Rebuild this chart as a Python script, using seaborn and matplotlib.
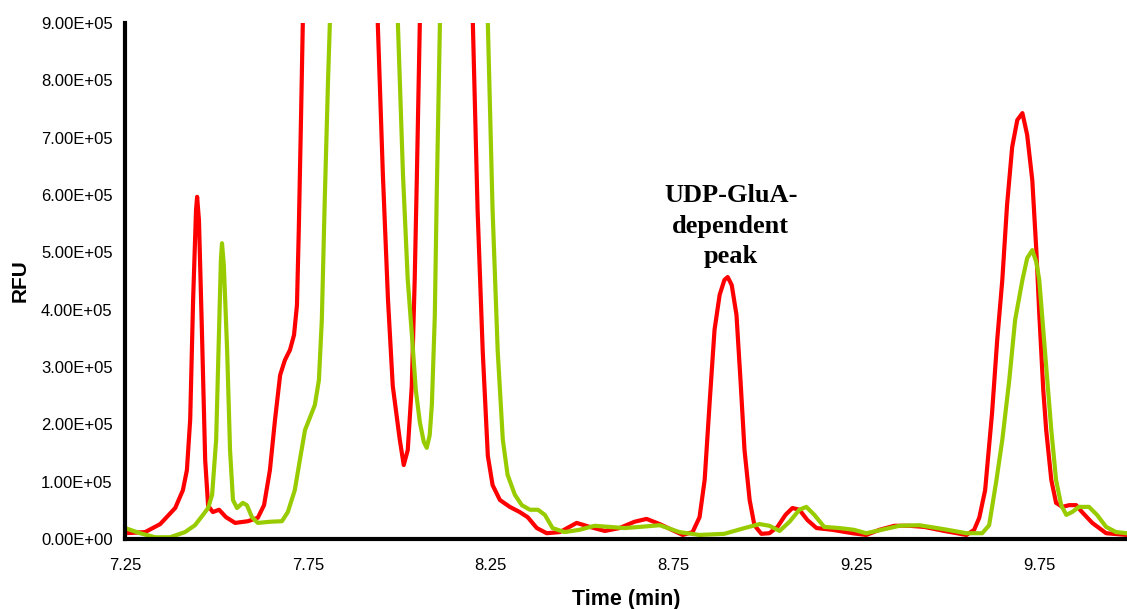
import matplotlib

matplotlib.use("Agg")

import matplotlib.pyplot as plt  # noqa: E402
import seaborn as sns  # noqa: E402
from matplotlib.ticker import FormatStrFormatter  # noqa: E402

# Red trace (with UDP-GluA). Points above 9e5 are
# rough guesses for the off-scale peaks; they get clipped by the axes anyway.
red_time = [
    7.250, 7.305, 7.346, 7.387, 7.408, 7.419, 7.428, 7.436, 7.444, 7.447,
    7.452, 7.460, 7.469, 7.477, 7.490, 7.507, 7.526, 7.551, 7.586, 7.613,
    7.630, 7.646, 7.660, 7.674, 7.687, 7.701, 7.712, 7.720, 7.725, 7.731,
    7.736, 7.755, 7.837, 7.925, 7.941, 7.955, 7.969, 7.982, 8.001, 8.012,
    8.023, 8.034, 8.042, 8.048, 8.056, 8.070, 8.127, 8.187, 8.201, 8.214,
    8.228, 8.242, 8.255, 8.275, 8.302, 8.329, 8.351, 8.376, 8.403, 8.439,
    8.485, 8.521, 8.562, 8.602, 8.643, 8.676, 8.712, 8.745, 8.775, 8.802,
    8.821, 8.835, 8.849, 8.862, 8.876, 8.889, 8.898, 8.909, 8.922, 8.933,
    8.944, 8.958, 8.971, 8.990, 9.012, 9.034, 9.056, 9.075, 9.094, 9.116,
    9.141, 9.184, 9.239, 9.277, 9.313, 9.354, 9.395, 9.436, 9.490, 9.551,
    9.572, 9.586, 9.602, 9.621, 9.635, 9.649, 9.662, 9.676, 9.690, 9.704,
    9.717, 9.731, 9.742, 9.750, 9.761, 9.769, 9.783, 9.796, 9.813, 9.832,
    9.851, 9.867, 9.895, 9.933, 9.990,
]
red_rfu = [
    0.10e5, 0.12e5, 0.26e5, 0.54e5, 0.85e5, 1.20e5, 2.08e5, 4.17e5, 5.74e5, 5.97e5,
    5.56e5, 3.65e5, 1.38e5, 0.58e5, 0.47e5, 0.51e5, 0.38e5, 0.28e5, 0.31e5, 0.37e5,
    0.59e5, 1.20e5, 2.08e5, 2.86e5, 3.12e5, 3.30e5, 3.56e5, 4.08e5, 5.39e5, 7.31e5,
    9.00e5, 15.0e5, 30.0e5, 15.0e5, 9.00e5, 6.35e5, 4.17e5, 2.67e5, 1.74e5, 1.29e5,
    1.55e5, 2.67e5, 4.52e5, 6.35e5, 9.00e5, 15.0e5, 30.0e5, 15.0e5, 9.00e5, 5.74e5,
    3.28e5, 1.45e5, 0.94e5, 0.68e5, 0.56e5, 0.47e5, 0.38e5, 0.19e5, 0.10e5, 0.12e5,
    0.28e5, 0.21e5, 0.14e5, 0.19e5, 0.30e5, 0.35e5, 0.26e5, 0.16e5, 0.07e5, 0.12e5,
    0.38e5, 1.03e5, 2.42e5, 3.65e5, 4.26e5, 4.52e5, 4.57e5, 4.43e5, 3.91e5, 2.77e5,
    1.55e5, 0.68e5, 0.24e5, 0.09e5, 0.10e5, 0.21e5, 0.42e5, 0.54e5, 0.51e5, 0.33e5,
    0.19e5, 0.16e5, 0.10e5, 0.07e5, 0.16e5, 0.23e5, 0.23e5, 0.21e5, 0.14e5, 0.07e5,
    0.16e5, 0.37e5, 0.85e5, 2.20e5, 3.47e5, 4.52e5, 5.83e5, 6.84e5, 7.31e5, 7.43e5,
    7.05e5, 6.26e5, 5.04e5, 3.94e5, 2.60e5, 1.90e5, 1.03e5, 0.63e5, 0.56e5, 0.59e5,
    0.59e5, 0.47e5, 0.28e5, 0.10e5, 0.07e5,
]

# Green trace (control).
green_time = [
    7.250, 7.291, 7.332, 7.373, 7.414, 7.441, 7.463, 7.477, 7.488, 7.499,
    7.507, 7.512, 7.515, 7.520, 7.529, 7.537, 7.545, 7.556, 7.572, 7.583,
    7.597, 7.613, 7.646, 7.679, 7.695, 7.714, 7.728, 7.742, 7.755, 7.769,
    7.780, 7.788, 7.796, 7.805, 7.810, 7.824, 7.906, 7.982, 7.996, 8.010,
    8.023, 8.034, 8.045, 8.056, 8.067, 8.075, 8.083, 8.089, 8.097, 8.102,
    8.111, 8.124, 8.179, 8.231, 8.242, 8.255, 8.269, 8.283, 8.296, 8.316,
    8.335, 8.357, 8.379, 8.398, 8.419, 8.452, 8.493, 8.534, 8.575, 8.616,
    8.657, 8.712, 8.766, 8.821, 8.889, 8.944, 8.985, 9.012, 9.040, 9.067,
    9.094, 9.113, 9.135, 9.162, 9.204, 9.243, 9.277, 9.326, 9.368, 9.422,
    9.490, 9.551, 9.594, 9.613, 9.633, 9.649, 9.668, 9.684, 9.704, 9.717,
    9.731, 9.742, 9.750, 9.761, 9.772, 9.783, 9.796, 9.810, 9.824, 9.840,
    9.859, 9.886, 9.908, 9.933, 9.960, 9.990,
]
green_rfu = [
    0.19e5, 0.10e5, 0.03e5, 0.03e5, 0.12e5, 0.24e5, 0.42e5, 0.54e5, 0.77e5, 1.73e5,
    3.65e5, 4.87e5, 5.16e5, 4.78e5, 3.30e5, 1.55e5, 0.68e5, 0.54e5, 0.63e5, 0.59e5,
    0.38e5, 0.28e5, 0.30e5, 0.31e5, 0.47e5, 0.85e5, 1.38e5, 1.90e5, 2.11e5, 2.34e5,
    2.77e5, 3.82e5, 5.91e5, 8.00e5, 9.00e5, 15.0e5, 30.0e5, 15.0e5, 9.00e5, 6.35e5,
    4.52e5, 3.59e5, 2.60e5, 2.04e5, 1.69e5, 1.59e5, 1.81e5, 2.35e5, 3.89e5, 5.91e5,
    9.00e5, 15.0e5, 30.0e5, 15.0e5, 9.00e5, 5.74e5, 3.28e5, 1.73e5, 1.12e5, 0.77e5,
    0.59e5, 0.51e5, 0.51e5, 0.42e5, 0.19e5, 0.12e5, 0.16e5, 0.23e5, 0.21e5, 0.19e5,
    0.21e5, 0.24e5, 0.12e5, 0.07e5, 0.09e5, 0.19e5, 0.26e5, 0.23e5, 0.14e5, 0.30e5,
    0.51e5, 0.56e5, 0.42e5, 0.21e5, 0.19e5, 0.16e5, 0.10e5, 0.17e5, 0.23e5, 0.24e5,
    0.17e5, 0.10e5, 0.10e5, 0.24e5, 1.03e5, 1.73e5, 2.77e5, 3.82e5, 4.52e5, 4.90e5,
    5.04e5, 4.83e5, 4.52e5, 3.65e5, 2.77e5, 1.90e5, 1.03e5, 0.59e5, 0.42e5, 0.47e5,
    0.56e5, 0.56e5, 0.42e5, 0.21e5, 0.12e5, 0.10e5,
]

x_ticks = [7.25, 7.75, 8.25, 8.75, 9.25, 9.75]
x_tick_labels = ["7.25", "7.75", "8.25", "8.75", "9.25", "9.75"]
y_ticks = [0, 1e5, 2e5, 3e5, 4e5, 5e5, 6e5, 7e5, 8e5, 9e5]

sns.set_theme(style="white")
plt.rcParams["font.family"] = ["Liberation Sans", "DejaVu Sans"]

fig = plt.figure(figsize=(11.27, 6.09), dpi=100)
ax = fig.add_axes([0.111, 0.115, 0.889, 0.847])

sns.lineplot(x=red_time, y=red_rfu, ax=ax, color="#ff0000", linewidth=3.0, sort=False)
sns.lineplot(x=green_time, y=green_rfu, ax=ax, color="#99cc00", linewidth=3.0, sort=False)

ax.set_xlim(7.25, 9.99)
ax.set_ylim(0, 9e5)
ax.set_xticks(x_ticks)
ax.set_xticklabels(x_tick_labels)
ax.set_yticks(y_ticks)
ax.yaxis.set_major_formatter(FormatStrFormatter("%.2E"))

sns.despine(ax=ax)
for side in ("left", "bottom"):
    ax.spines[side].set_color("black")
    ax.spines[side].set_linewidth(3)
ax.tick_params(axis="both", colors="black", labelsize=12, direction="out",
               length=5, width=2.5)
ax.tick_params(axis="x", pad=9)
ax.tick_params(axis="y", pad=4)

ax.set_xlabel("Time (min)", fontsize=15.5, fontweight="bold", labelpad=11,
              color="black")
ax.set_ylabel("RFU", fontsize=15, fontweight="bold", labelpad=8, color="black")

ax.text(8.906, 5.46e5, "UDP-GluA-\ndependent\npeak", ha="center", va="center",
        fontsize=19, fontweight="bold", linespacing=1.4, color="black",
        family=["Liberation Serif", "DejaVu Serif"])

fig.savefig("out.png", dpi=100)
